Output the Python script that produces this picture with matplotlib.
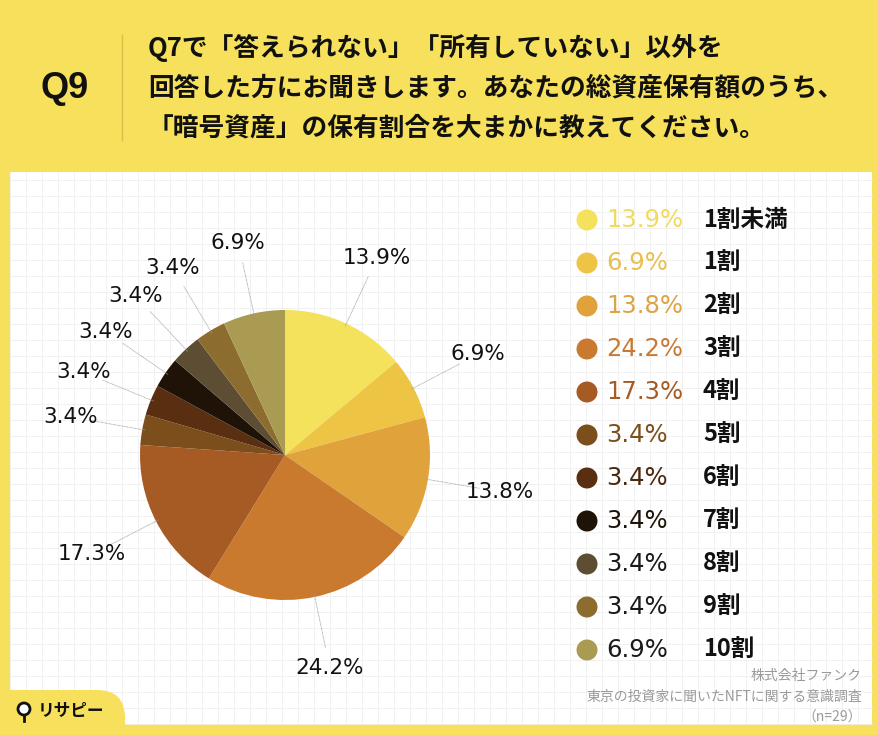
import numpy as np
import matplotlib
matplotlib.use("Agg")
from matplotlib import pyplot as plt
from matplotlib.patches import Rectangle, FancyBboxPatch, Circle

plt.rcParams['font.family'] = ['Noto Sans CJK JP', 'DejaVu Sans']

# data
categories = ['1割未満', '1割', '2割', '3割', '4割', '5割', '6割', '7割', '8割', '9割', '10割']
values = [13.9, 6.9, 13.8, 24.2, 17.3, 3.4, 3.4, 3.4, 3.4, 3.4, 6.9]
colors = ['#F4E15C', '#EEC445', '#E0A33C', '#CA7A2E', '#A65A24', '#7B4E1B',
          '#5A2E10', '#1F1307', '#5C4D33', '#8D6C30', '#A99C52']
pct_colors = ['#F1DB5E', '#E9C04C', '#DCA448', '#C87A35', '#A65A24', '#7B4E1B',
              '#4A2810', '#1F1307', '#1A1A1A', '#1A1A1A', '#1A1A1A']
title_lines = ['Q7で「答えられない」「所有していない」以外を',
               '回答した方にお聞きします。あなたの総資産保有額のうち、',
               '「暗号資産」の保有割合を大まかに教えてください。']
footer = ['株式会社ファンク', '東京の投資家に聞いたNFTに関する意識調査', '（n=29）']

W, H = 879, 735
fig = plt.figure(figsize=(W / 100, H / 100), dpi=100)
ax = fig.add_axes([0, 0, 1, 1])

yellow = '#F6E05C'
fig.patch.set_facecolor(yellow)
num_font = ['DejaVu Sans', 'Noto Sans CJK JP']

# white panel with grid
px0, px1, py0, py1 = 10, 872, H - 724, H - 172
ax.add_patch(Rectangle((px0, py0), px1 - px0, py1 - py0, facecolor='white', edgecolor='none', zorder=0))
for gx in np.arange(px0, px1, 16):
    ax.plot([gx, gx], [py0, py1], color='#EFEFEF', lw=0.6, zorder=0.5)
for gy in np.arange(py0, py1, 16):
    ax.plot([px0, px1], [gy, gy], color='#EFEFEF', lw=0.6, zorder=0.5)

# header
ax.text(65, H - 88, 'Q9', fontsize=26, fontweight='bold', family=['Liberation Sans'],
        ha='center', va='center', color='#111111')
ax.plot([122, 122], [H - 35, H - 140], color='#D9C04A', lw=1)
for i, line in enumerate(title_lines):
    ax.text(148, H - 48 - 40 * i, line, fontsize=18.5, fontweight='bold', ha='left', va='center', color='#111111')

# pie
cx, cy, r = 285, H - 455, 145
wedges, _ = ax.pie(values, colors=colors, startangle=90, counterclock=False,
                   center=(cx, cy), radius=r, wedgeprops=dict(linewidth=0), frame=True)
ax.set_xlim(0, W)
ax.set_ylim(0, H)
ax.axis('off')
ax.set_aspect('equal')

for w, v in zip(wedges, values):
    ang = np.deg2rad((w.theta1 + w.theta2) / 2)
    ux, uy = np.cos(ang), np.sin(ang)
    ax.plot([cx + ux * r * 0.98, cx + ux * r * 1.36], [cy + uy * r * 0.98, cy + uy * r * 1.36],
            color='#A0A0A0', lw=0.6, ls=(0, (1, 0.6)), zorder=3)
    ax.text(cx + ux * r * 1.5, cy + uy * r * 1.5, f'{v:.1f}%', fontsize=15.5, family=num_font,
            ha='center', va='center', color='#111111')

# legend
for i, (cat, v) in enumerate(zip(categories, values)):
    ly = H - 220 - 43 * i
    ax.add_patch(Circle((587, ly), 10.5, facecolor=colors[i], edgecolor='none'))
    ax.text(606, ly, f'{v:.1f}%', fontsize=17.5, family=num_font, ha='left', va='center', color=pct_colors[i])
    ax.text(703, ly, cat, fontsize=17, fontweight='bold', ha='left', va='center', color='#111111')

# footer
for i, t in enumerate(footer):
    ax.text(862, H - 676 - 21 * i, t, fontsize=10, ha='right', va='center', color='#9A9A9A')

# logo tab
ax.add_patch(FancyBboxPatch((-30, -30), 155, H - 690 + 30, boxstyle='round,pad=0,rounding_size=28',
                            facecolor=yellow, edgecolor='none', zorder=2))
ax.add_patch(Circle((24, H - 709), 6, facecolor='white', edgecolor='#111111', lw=2, zorder=3))
ax.plot([24, 24], [H - 715, H - 721], color='#111111', lw=2, zorder=3)
ax.text(38, H - 711, 'リサピー', fontsize=12, fontweight='bold', ha='left', va='center', color='#111111', zorder=3)

fig.savefig('out.png', dpi=100, facecolor=fig.get_facecolor())
